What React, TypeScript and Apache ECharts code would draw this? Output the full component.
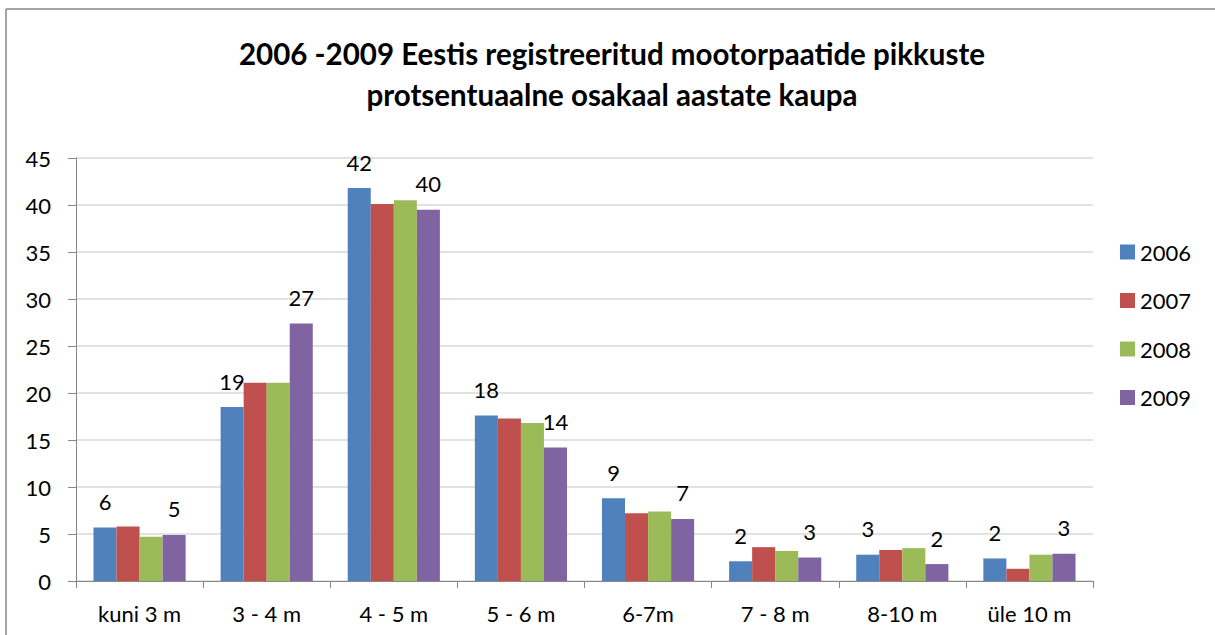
import React, { useEffect, useRef } from "react";
import * as echarts from "echarts";

const categories = ["kuni 3 m", "3 - 4 m", "4 - 5 m", "5 - 6 m", "6-7m", "7 - 8 m", "8-10 m", "üle 10 m"];
const seriesNames = ["2006", "2007", "2008", "2009"];
const values2006 = [5.7, 18.5, 41.8, 17.6, 8.8, 2.1, 2.8, 2.4];
const values2007 = [5.8, 21.1, 40.1, 17.3, 7.2, 3.6, 3.3, 1.3];
const values2008 = [4.7, 21.1, 40.5, 16.8, 7.4, 3.2, 3.5, 2.8];
const values2009 = [4.9, 27.4, 39.5, 14.2, 6.6, 2.5, 1.8, 2.9];
const colors = ["#4F81BD", "#C0504D", "#9BBB59", "#8064A2"];
const labelled = [true, false, false, true];

const FONT = "Lato";

export default function App() {
  const ref = useRef<HTMLDivElement>(null);
  useEffect(() => {
    if (!ref.current) return;
    const chart = echarts.init(ref.current, undefined, { renderer: "svg" });
    const data = [values2006, values2007, values2008, values2009];
    chart.setOption({
      animation: false,
      backgroundColor: "#ffffff",
      textStyle: { fontFamily: FONT, color: "#000" },
      title: {
        text: "2006 -2009 Eestis registreeritud mootorpaatide pikkuste\nprotsentuaalne osakaal aastate kaupa",
        left: 607,
        textAlign: "center",
        top: 28,
        textStyle: { fontFamily: FONT, fontWeight: "bold", fontSize: 29.5, lineHeight: 41, color: "#000" },
      },
      graphic: [
        {
          type: "line",
          shape: { x1: 6, y1: 9, x2: 1215, y2: 9 },
          style: { stroke: "#878787", lineWidth: 1.5 },
          silent: true,
        },
        {
          type: "line",
          shape: { x1: 6, y1: 9, x2: 6, y2: 635 },
          style: { stroke: "#878787", lineWidth: 1.5 },
          silent: true,
        },
      ],
      legend: {
        orient: "vertical",
        left: 1115,
        top: 236,
        icon: "rect",
        itemWidth: 15,
        itemHeight: 15,
        itemGap: 26.5,
        data: seriesNames,
        textStyle: { fontFamily: FONT, fontSize: 22, color: "#000" },
      },
      grid: { left: 76, right: 122, top: 158, bottom: 54, containLabel: false },
      xAxis: {
        type: "category",
        data: categories,
        axisLine: { lineStyle: { color: "#878787", width: 1 } },
        axisTick: { show: true, length: 7, lineStyle: { color: "#878787" } },
        axisLabel: { fontFamily: FONT, fontSize: 22, color: "#000", margin: 21 },
      },
      yAxis: {
        type: "value",
        min: 0,
        max: 45,
        interval: 5,
        axisLine: { show: true, lineStyle: { color: "#878787", width: 1 } },
        axisTick: { show: true, length: 8, lineStyle: { color: "#878787" } },
        axisLabel: { fontFamily: FONT, fontSize: 22, color: "#000", margin: 25 },
        splitLine: { lineStyle: { color: "#D9D9D9", width: 1.5 } },
      },
      series: seriesNames.map((name, i) => ({
        name,
        type: "bar",
        data: data[i],
        barGap: "0%",
        barCategoryGap: "27.5%",
        itemStyle: { color: colors[i] },
        label: {
          show: labelled[i],
          position: "top",
          distance: 15,
          fontFamily: FONT,
          fontSize: 22,
          color: "#000",
          formatter: (p: any) => String(Math.round(p.value)),
        },
      })),
    });
    return () => chart.dispose();
  }, []);
  return <div ref={ref} style={{ position: "fixed", left: 0, top: 0, width: 1215, height: 635 }} />;
}
